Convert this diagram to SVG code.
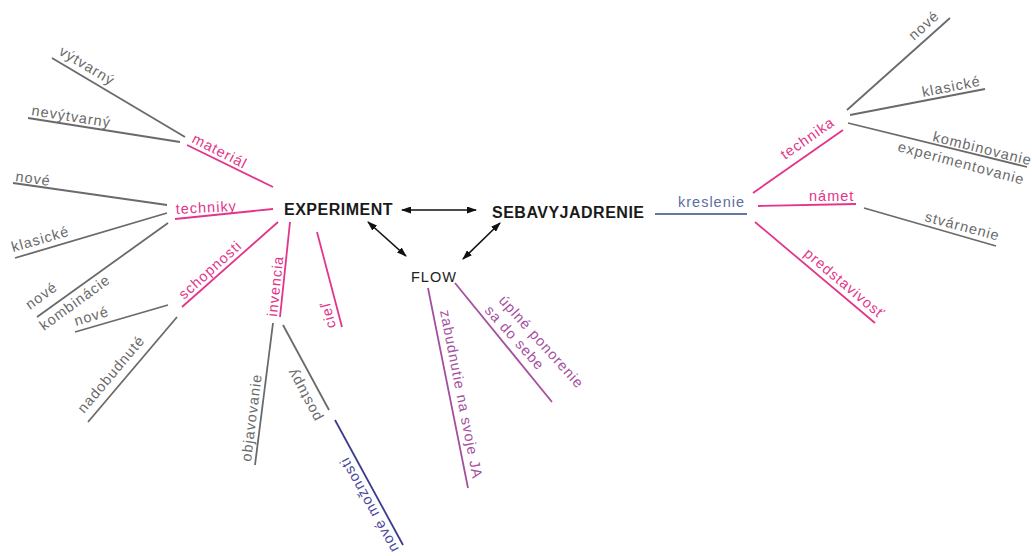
<svg xmlns="http://www.w3.org/2000/svg" width="1032" height="556" viewBox="0 0 1032 556">
<defs>
<marker id="ah" viewBox="0 0 10 10" refX="9" refY="5" markerWidth="10" markerHeight="7" markerUnits="userSpaceOnUse" orient="auto-start-reverse" preserveAspectRatio="none">
<path d="M0,0 L10,5 L0,10 Z" fill="#111"/>
</marker>
<style>
text{font-family:"Liberation Sans",Arial,sans-serif;font-size:14.5px;letter-spacing:1px}
.main{font-weight:bold;font-size:16px;letter-spacing:0.5px;fill:#1a1a1a}
.flow{fill:#222;font-size:14.5px}
line{stroke-width:1.8;fill:none}
.pk line{stroke:#e2358a}.pk text{fill:#e2358a}
.gr line{stroke:#6a6a6a}.gr text{fill:#6a6a6a}
.pu line{stroke:#a5519f}.pu text{fill:#a5519f}
.nv line{stroke:#3d3b8e}.nv text{fill:#4a48a0}
.bl line{stroke:#6477a8}.bl text{fill:#5c6d9e}
.arr{stroke:#111;stroke-width:1.6;marker-start:url(#ah);marker-end:url(#ah)}
</style>
</defs>
<rect width="1032" height="556" fill="#fff"/>

<g id="connectors">
<line class="arr" x1="402" y1="210" x2="476" y2="210"/>
<line class="arr" x1="368" y1="222" x2="406" y2="256"/>
<line class="arr" x1="500" y1="223" x2="463" y2="259"/>
</g>

<g id="experiment"><text class="main" x="284" y="215">EXPERIMENT</text></g>
<g id="sebavyjadrenie"><text class="main" x="492" y="218">SEBAVYJADRENIE</text></g>
<g id="flow"><text class="flow" x="411" y="282">FLOW</text></g>

<!-- left: material -->
<g id="material" class="pk"><line x1="187" y1="145" x2="273" y2="187"/><text transform="translate(191,142) rotate(27)">materiál</text></g>
<g id="vytvarny" class="gr"><line x1="52" y1="58" x2="185" y2="137"/><text transform="translate(58,54) rotate(31)">výtvarný</text></g>
<g id="nevytvarny" class="gr"><line x1="28" y1="118" x2="180" y2="142"/><text transform="translate(31,115) rotate(9)">nevýtvarný</text></g>

<!-- left: techniky -->
<g id="techniky" class="pk"><line x1="175" y1="219" x2="273" y2="209"/><text transform="translate(176,214) rotate(-3)">techniky</text></g>
<g id="techniky-nove" class="gr"><line x1="13" y1="183" x2="167" y2="205"/><text transform="translate(15,181) rotate(8)">nové</text></g>
<g id="techniky-klasicke" class="gr"><line x1="15" y1="258" x2="167" y2="213"/><text transform="translate(13,252) rotate(-16)">klasické</text></g>
<g id="nove-kombinacie" class="gr"><line x1="37" y1="317" x2="168" y2="223"/><text transform="translate(30,310) rotate(-36)">nové</text><text transform="translate(44,331) rotate(-36)">kombinácie</text></g>

<!-- left: schopnosti -->
<g id="schopnosti" class="pk"><line x1="182" y1="307" x2="278" y2="222"/><text transform="translate(184,300) rotate(-42)">schopnosti</text></g>
<g id="schopnosti-nove" class="gr"><line x1="75" y1="332" x2="168" y2="305"/><text transform="translate(76,326) rotate(-17)">nové</text></g>
<g id="nadobudnute" class="gr"><line x1="88" y1="422" x2="177" y2="317"/><text transform="translate(84,414) rotate(-50)">nadobudnuté</text></g>

<!-- bottom: invencia -->
<g id="invencia" class="pk"><line x1="280" y1="317" x2="290" y2="222"/><text transform="translate(277,317) rotate(-84)">invencia</text></g>
<g id="ciel" class="pk"><line x1="317" y1="232" x2="342" y2="327"/><text transform="translate(336,327) rotate(-104)">cieľ</text></g>
<g id="objavovanie" class="gr"><line x1="255" y1="465" x2="273" y2="323"/><text transform="translate(251,462) rotate(-83)">objavovanie</text></g>
<g id="postupy" class="gr"><line x1="283" y1="325" x2="329" y2="410"/><text transform="translate(322,418) rotate(-118)">postupy</text></g>
<g id="nove-moznosti" class="nv"><line x1="335" y1="420" x2="403" y2="545"/><text transform="translate(399,549) rotate(-119)">nové možnosti</text></g>

<!-- flow children -->
<g id="zabudnutie" class="pu"><line x1="428" y1="288" x2="468" y2="488"/><text transform="translate(440,311) rotate(79)">zabudnutie na svoje JA</text></g>
<g id="ponorenie" class="pu"><line x1="455" y1="283" x2="552" y2="402"/><text transform="translate(498,301) rotate(48)">úplné ponorenie</text><text transform="translate(484,311) rotate(48)">sa do sebe</text></g>

<!-- right -->
<g id="kreslenie" class="bl"><line x1="655" y1="214" x2="747" y2="214"/><text x="678" y="207">kreslenie</text></g>
<g id="technika" class="pk"><line x1="753" y1="193" x2="843" y2="130"/><text transform="translate(785,160) rotate(-35)">technika</text></g>
<g id="technika-nove" class="gr"><line x1="847" y1="110" x2="950" y2="18"/><text transform="translate(914,41) rotate(-42)">nové</text></g>
<g id="technika-klasicke" class="gr"><line x1="850" y1="115" x2="985" y2="89"/><text transform="translate(923,97) rotate(-11)">klasické</text></g>
<g id="kombinovanie" class="gr"><line x1="848" y1="123" x2="1027" y2="167"/><text transform="translate(932,141) rotate(14)">kombinovanie</text><text transform="translate(897,151) rotate(15)">experimentovanie</text></g>
<g id="namet" class="pk"><line x1="758" y1="206" x2="856" y2="204"/><text x="809" y="201">námet</text></g>
<g id="stvarnenie" class="gr"><line x1="864" y1="208" x2="996" y2="246"/><text transform="translate(924,221) rotate(15)">stvárnenie</text></g>
<g id="predstavivost" class="pk"><line x1="755" y1="222" x2="875" y2="323"/><text transform="translate(803,255) rotate(40)">predstavivosť</text></g>
</svg>
